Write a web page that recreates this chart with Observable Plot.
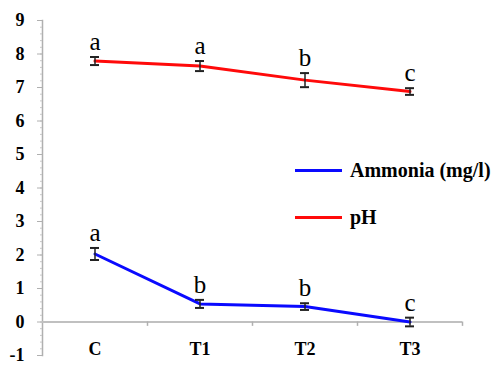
<!DOCTYPE html>
<html>
<head>
<meta charset="utf-8">
<script src="https://cdn.jsdelivr.net/npm/d3@7"></script>
<script src="https://cdn.jsdelivr.net/npm/@observablehq/plot@0.6"></script>
<style>
  body { margin: 0; background: #fff; }
  #wrap { position: relative; width: 500px; height: 365px; font-family: "Liberation Serif", "Times New Roman", Times, "DejaVu Serif", serif; }
  #legend { position: absolute; left: 295px; top: 157px; font-weight: bold; font-size: 20px; color: #000; font-family: "Liberation Serif", "Times New Roman", Times, "DejaVu Serif", serif; }
  .item { display: flex; align-items: center; height: 26px; margin-bottom: 21px; white-space: nowrap; }
  .swatch { width: 47px; height: 3px; margin-right: 8px; }
  svg text { font-family: "Liberation Serif", "Times New Roman", Times, "DejaVu Serif", serif !important; }
</style>
</head>
<body>
<div id="wrap"><div id="legend"></div></div>
<script>
const categories = ["C", "T1", "T2", "T3"];
const phValues = [7.79, 7.64, 7.22, 6.88];
const phErrors = [0.12, 0.15, 0.21, 0.1];
const phLetters = ["a", "a", "b", "c"];
const ammoniaValues = [2.03, 0.54, 0.46, 0.0];
const ammoniaErrors = [0.18, 0.12, 0.1, 0.13];
const ammoniaLetters = ["a", "b", "b", "c"];
const yTicks = [-1, 0, 1, 2, 3, 4, 5, 6, 7, 8, 9];
const seriesNames = ["Ammonia (mg/l)", "pH"];
const seriesColors = ["#0a0aff", "#ff0a0a"];

const rows = [];
categories.forEach((c, i) => {
  rows.push({series: "pH", cat: c, value: phValues[i], err: phErrors[i], letter: phLetters[i]});
});
categories.forEach((c, i) => {
  rows.push({series: "Ammonia (mg/l)", cat: c, value: ammoniaValues[i], err: ammoniaErrors[i], letter: ammoniaLetters[i]});
});

const font = '"Liberation Serif", "Times New Roman", Times, "DejaVu Serif", serif';

const chart = Plot.plot({
  width: 500,
  height: 365,
  marginLeft: 42,
  marginRight: 38,
  marginTop: 20,
  marginBottom: 10,
  style: {fontFamily: font, background: "white"},
  x: {domain: categories, padding: 0, axis: null},
  y: {domain: [-1, 9], axis: null},
  marks: [
    Plot.frame({anchor: "left", stroke: "#b0b0b0", strokeWidth: 1.5}),
    Plot.axisY({ticks: d3.range(-1, 9, 0.2), tickSize: 2, text: null, label: null, stroke: "#c8c8c8"}),
    Plot.axisY({ticks: yTicks, tickSize: 5, tickPadding: 13, label: null, stroke: "#b0b0b0", fill: "black",
      fontSize: 18, fontWeight: "bold", fontFamily: font, tickFormat: d => d}),
    Plot.ruleY([0], {stroke: "#c0c0c0", strokeWidth: 2}),
    Plot.ruleX(categories, {x: d => d, y1: 0, y2: -0.13, dx: 52.5, stroke: "#b0b0b0", strokeWidth: 1.5}),
    Plot.text(categories, {x: d => d, y: -1, dy: -6, text: d => d, fontSize: 18, fontWeight: "bold", fontFamily: font, fill: "black"}),
    Plot.line(rows, {x: "cat", y: "value", z: "series", stroke: "series", strokeWidth: 3}),
    Plot.ruleX(rows, {x: "cat", y1: d => d.value - d.err, y2: d => d.value + d.err, stroke: "#222", strokeWidth: 1.5}),
    Plot.tickY(rows, {x: "cat", y: d => d.value - d.err, stroke: "#222", strokeWidth: 2, insetLeft: 48, insetRight: 48}),
    Plot.tickY(rows, {x: "cat", y: d => d.value + d.err, stroke: "#222", strokeWidth: 2, insetLeft: 48, insetRight: 48}),
    Plot.text(rows, {x: "cat", y: d => d.value + d.err, text: "letter", lineAnchor: "bottom", dy: -7, fontSize: 25, fontFamily: font, fill: "black"})
  ],
  color: {domain: seriesNames, range: seriesColors}
});

document.getElementById("wrap").prepend(chart);

const legend = d3.select("#legend");
seriesNames.forEach((name, i) => {
  const item = legend.append("div").attr("class", "item");
  item.append("div").attr("class", "swatch").style("background", seriesColors[i]);
  item.append("span").text(name);
});
</script>
</body>
</html>
